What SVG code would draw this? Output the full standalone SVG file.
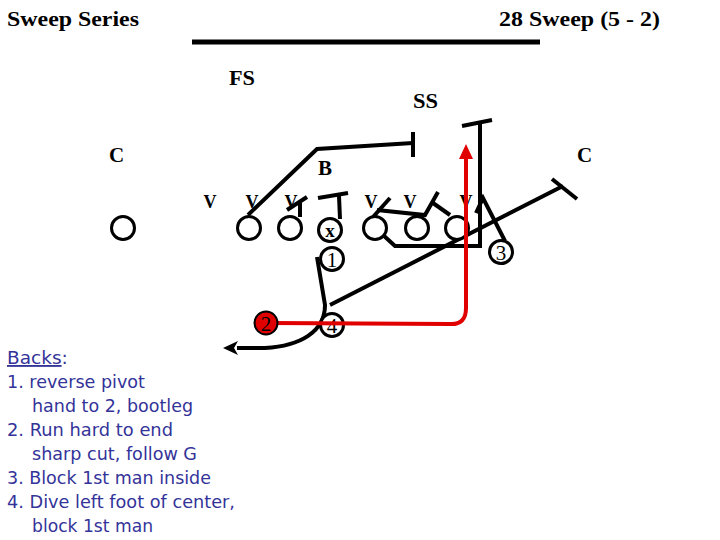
<svg xmlns="http://www.w3.org/2000/svg" width="720" height="540" viewBox="0 0 720 540">
<style>
.t{font-family:"Liberation Serif","Times New Roman",serif;font-weight:bold;fill:#000}
.lbl{font-size:21px}
.v{font-size:18px;text-anchor:middle}
.num{font-family:"Liberation Serif","Times New Roman",serif;font-size:21px;text-anchor:middle;fill:#000}
.pl{fill:#fff;stroke:#000;stroke-width:3}
.ln{fill:none;stroke:#000;stroke-width:4;stroke-linecap:butt;stroke-linejoin:miter}
.red{fill:none;stroke:#e00000;stroke-width:4}
.note{font-family:"DejaVu Sans",Tahoma,Verdana,sans-serif;font-size:18.5px;fill:#333399}
</style>
<defs>
<marker id="ab" markerUnits="userSpaceOnUse" markerWidth="20" markerHeight="20" refX="1" refY="8" orient="auto">
<path d="M0,1 L15,8 L0,15 L4,8 Z" fill="#000"/>
</marker>
<marker id="ar" markerUnits="userSpaceOnUse" markerWidth="20" markerHeight="20" refX="1" refY="8" orient="auto">
<path d="M0,1 L15,8 L0,15 Z" fill="#e00000"/>
</marker>
</defs>
<rect width="720" height="540" fill="#fff"/>
<g id="titles">
<text class="t" x="7" y="26" font-size="21" textLength="132" lengthAdjust="spacingAndGlyphs">Sweep Series</text>
<text class="t" x="499" y="26" font-size="21" textLength="161" lengthAdjust="spacingAndGlyphs">28 Sweep (5 - 2)</text>
<line x1="192" y1="42" x2="540" y2="42" stroke="#000" stroke-width="5"/>
</g>
<g id="defense">
<text class="t lbl" x="229" y="85" textLength="26" lengthAdjust="spacingAndGlyphs">FS</text>
<text class="t lbl" x="413" y="108" textLength="25" lengthAdjust="spacingAndGlyphs">SS</text>
<text class="t lbl" x="109" y="162">C</text>
<text class="t lbl" x="577" y="162">C</text>
<text class="t lbl" x="318" y="175">B</text>
<text class="t v" x="210" y="208">V</text>
<text class="t v" x="252" y="208">V</text>
<text class="t v" x="291" y="208">V</text>
<text class="t v" x="371" y="208">V</text>
<text class="t v" x="410" y="208">V</text>
<text class="t v" x="466" y="208">V</text>
</g>
<g id="connectors">
<polyline class="ln" points="248,215 317,149 413,143"/>
<line class="ln" x1="413" y1="132" x2="413" y2="157"/>
<line class="ln" x1="300" y1="203" x2="300" y2="217"/>
<line class="ln" x1="287" y1="210" x2="307" y2="197"/>
<line class="ln" x1="318" y1="198" x2="348" y2="193"/>
<line class="ln" x1="339" y1="196" x2="340" y2="219"/>
<line class="ln" x1="373" y1="217" x2="390" y2="198"/>
<polyline class="ln" points="377,210 425,215 438,192"/>
<line class="ln" x1="433" y1="203" x2="450" y2="215"/>
<polyline class="ln" points="383,235 395,246 480,246 480,121"/>
<line class="ln" x1="462" y1="126" x2="492" y2="120"/>
<polyline class="ln" points="476,213 483,198 505,241"/>
<line class="ln" x1="330" y1="305" x2="563" y2="186"/>
<line class="ln" x1="552" y1="179" x2="577" y2="199"/>
<path class="ln" d="M317,257 L325,305 C325,332 300,346 265,348 L237,348" marker-end="url(#ab)"/>
</g>
<g id="players">
<circle class="pl" cx="123" cy="228" r="11.5"/>
<circle class="pl" cx="249" cy="228" r="11.5"/>
<circle class="pl" cx="290" cy="228" r="11.5"/>
<g id="center"><circle class="pl" cx="330" cy="230" r="11.5"/><text class="t" x="330" y="237" font-size="19" text-anchor="middle">x</text></g>
<circle class="pl" cx="375" cy="228" r="11.5"/>
<circle class="pl" cx="417" cy="228" r="11.5"/>
<circle class="pl" cx="457" cy="228" r="11.5"/>
</g>
<g id="back1"><circle class="pl" cx="332" cy="259" r="11.5"/><text class="num" x="332" y="266.5">1</text></g>
<g id="back4"><circle class="pl" cx="332" cy="325" r="11.5"/><text class="num" x="332" y="332.5">4</text></g>
<g id="back3"><circle class="pl" cx="501" cy="252" r="11.5"/><text class="num" x="501" y="259.5">3</text></g>
<g id="redpath">
<path class="red" d="M270,323 L450,324 Q466,325 466,308 L466,158" marker-end="url(#ar)"/>
</g>
<g id="back2"><circle cx="266" cy="323" r="11.5" fill="#e00000" stroke="#000" stroke-width="2"/><text class="num" x="266" y="330.5">2</text></g>
<g id="notes">
<text class="note" x="7" y="364"><tspan text-decoration="underline">Backs</tspan>:</text>
<text class="note" x="7" y="388" textLength="138" lengthAdjust="spacingAndGlyphs">1. reverse pivot</text>
<text class="note" x="32" y="412" textLength="161" lengthAdjust="spacingAndGlyphs">hand to 2, bootleg</text>
<text class="note" x="7" y="436" textLength="166" lengthAdjust="spacingAndGlyphs">2. Run hard to end</text>
<text class="note" x="32" y="460" textLength="165" lengthAdjust="spacingAndGlyphs">sharp cut, follow G</text>
<text class="note" x="7" y="484" textLength="204" lengthAdjust="spacingAndGlyphs">3. Block 1st man inside</text>
<text class="note" x="7" y="508" textLength="228" lengthAdjust="spacingAndGlyphs">4. Dive left foot of center,</text>
<text class="note" x="32" y="532" textLength="121" lengthAdjust="spacingAndGlyphs">block 1st man</text>
</g>
</svg>
